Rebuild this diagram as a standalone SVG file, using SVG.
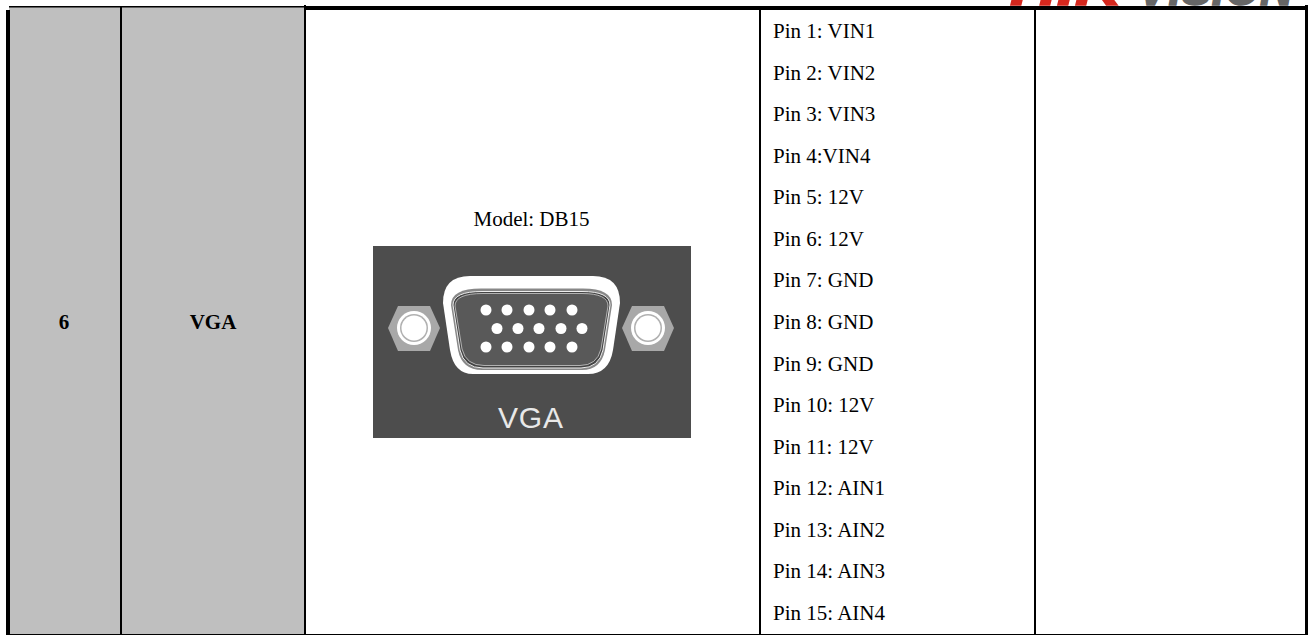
<svg xmlns="http://www.w3.org/2000/svg" width="1308" height="635" viewBox="0 0 1308 635">
<style>
.t{font-family:"Liberation Serif","Times New Roman",serif;font-size:21px;fill:#000}
.b{font-weight:bold;text-anchor:middle}
.l{fill:#000}
.pin{fill:#fff}
.logo{font-family:"Liberation Sans",Arial,sans-serif;font-weight:bold;font-style:italic;font-size:50px;stroke-width:1.5px}
.hex{fill:#a8a8a8}
.ring{fill:#b0b0b0}
.w{fill:#fff}
</style>
<defs><filter id="soft" x="-5%" y="-5%" width="110%" height="110%"><feGaussianBlur stdDeviation="0.7"/></filter></defs>
<rect width="1308" height="635" fill="#fff"/>
<g id="logo"><text class="logo" x="1010" y="5" fill="#d5281e" stroke="#d5281e" textLength="112" lengthAdjust="spacingAndGlyphs">HIK</text><text class="logo" x="1138" y="5" fill="#666" stroke="#666" textLength="155" lengthAdjust="spacingAndGlyphs">VISION</text></g>
<g id="cells">
<rect x="9" y="7" width="296" height="627" fill="#bfbfbf"/>
</g>
<g id="connectors">
<rect class="l" x="6" y="10" width="4" height="625"/>
<rect class="l" x="9" y="6" width="296" height="1.5"/>
<rect class="l" x="120" y="6" width="2" height="629"/>
<rect class="l" x="304" y="5" width="2" height="630"/>
<rect class="l" x="305" y="6" width="1003" height="4"/>
<rect class="l" x="9" y="634" width="1299" height="1"/>
<rect class="l" x="759" y="10" width="2" height="625"/>
<rect class="l" x="1034" y="10" width="2" height="625"/>
<rect class="l" x="1305" y="5" width="3" height="630"/>
</g>
<g id="row-label"><text class="t b" x="64" y="329">6</text><text class="t b" x="213" y="329">VGA</text></g>
<g id="model"><text class="t" x="531.5" y="226" text-anchor="middle">Model: DB15</text></g>
<g id="vga-image">
<rect x="373" y="246" width="318" height="192" fill="#4d4d4d"/>
<g id="screw-left"><polygon class="hex" points="388,328 398,306 430,306 440,328 430,351 398,351"/><circle class="w" cx="414" cy="328" r="17"/><circle class="ring" cx="414" cy="328" r="14"/><circle class="w" cx="414" cy="328" r="12.5"/></g>
<g id="screw-right"><polygon class="hex" points="622,328 632,306 664,306 674,328 664,351 632,351"/><circle class="w" cx="648" cy="328" r="17"/><circle class="ring" cx="648" cy="328" r="14"/><circle class="w" cx="648" cy="328" r="12.5"/></g>
<g id="shell">
<path d="M470,276H593Q620,276 620,303L613,350Q609,374 588,374H473Q454,374 450,350L443,303Q443,276 470,276Z" fill="#fff"/>
<path d="M481,288.5H583Q612,288.5 612,305L605,350Q601,370 582,370H482Q462,370 458,350L451,305Q451,288.5 481,288.5Z" fill="#888" filter="url(#soft)"/>
<path d="M482,291.5H582Q610,291.5 610,305L603,350Q599,368 581,368H483Q464,368 460,350L453,305Q453,291.5 482,291.5Z" fill="#444" stroke="#eee" stroke-width="1"/>
<path d="M483,293.5H582Q608,293.5 608,306L601,349Q597,365.5 580,365.5H484Q466,365.5 462,349L455,306Q455,293.5 483,293.5Z" fill="#595959" stroke="#ccc" stroke-width="0.8"/>
</g>
<g id="pins" class="pin">
<circle cx="486" cy="310" r="5.5"/><circle cx="507" cy="310" r="5.5"/><circle cx="529" cy="310" r="5.5"/><circle cx="550" cy="310" r="5.5"/><circle cx="572" cy="310" r="5.5"/>
<circle cx="497" cy="328.5" r="5.5"/><circle cx="518" cy="328.5" r="5.5"/><circle cx="539" cy="328.5" r="5.5"/><circle cx="561" cy="328.5" r="5.5"/><circle cx="582" cy="328.5" r="5.5"/>
<circle cx="486" cy="347" r="5.5"/><circle cx="507" cy="347" r="5.5"/><circle cx="529" cy="347" r="5.5"/><circle cx="550" cy="347" r="5.5"/><circle cx="572" cy="347" r="5.5"/>
</g>
<text x="498" y="428" textLength="65" lengthAdjust="spacing" style="font-family:'Liberation Sans',Arial,sans-serif;font-size:30px;fill:#e8e8e8">VGA</text>
</g>
<g id="pin-list">
<text class="t" x="773" y="38">Pin 1: VIN1</text>
<text class="t" x="773" y="79.6">Pin 2: VIN2</text>
<text class="t" x="773" y="121.1">Pin 3: VIN3</text>
<text class="t" x="773" y="162.7">Pin 4:VIN4</text>
<text class="t" x="773" y="204.3">Pin 5: 12V</text>
<text class="t" x="773" y="245.9">Pin 6: 12V</text>
<text class="t" x="773" y="287.4">Pin 7: GND</text>
<text class="t" x="773" y="329">Pin 8: GND</text>
<text class="t" x="773" y="370.6">Pin 9: GND</text>
<text class="t" x="773" y="412.1">Pin 10: 12V</text>
<text class="t" x="773" y="453.7">Pin 11: 12V</text>
<text class="t" x="773" y="495.3">Pin 12: AIN1</text>
<text class="t" x="773" y="536.9">Pin 13: AIN2</text>
<text class="t" x="773" y="578.4">Pin 14: AIN3</text>
<text class="t" x="773" y="620">Pin 15: AIN4</text>
</g>
</svg>
